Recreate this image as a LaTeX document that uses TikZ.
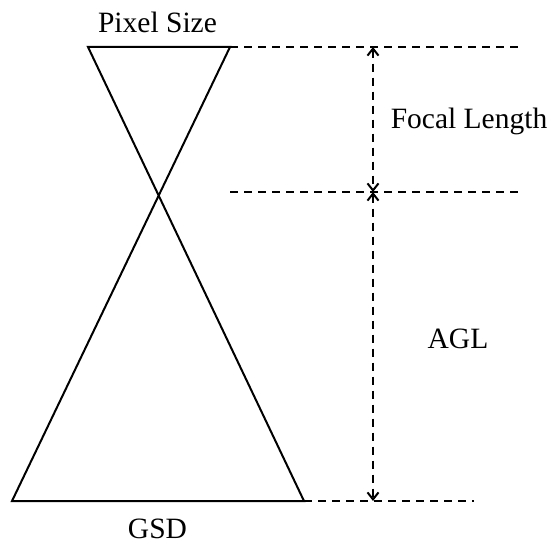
\documentclass[tikz,border=0pt]{standalone}
\usepackage{fontspec}
\setmainfont{Liberation Serif}
\usetikzlibrary{arrows.meta}

\begin{document}
\begin{tikzpicture}[
    x=1pt, y=-1pt,
    cone/.style={draw, line width=2pt, line join=miter},
    guide/.style={draw, line width=2pt, dash pattern=on 8pt off 6pt},
    dimarr/.style={guide, {Straight Barb[length=7pt, width=11pt]}-{Straight Barb[length=7pt, width=11pt]}},
    lbl/.style={font=\fontsize{29.5}{34}\selectfont, anchor=base, inner sep=0pt}
]
\useasboundingbox (0,0) rectangle (551,543);

% ---- Cone corners ----
\coordinate (sensorL) at (88,47);
\coordinate (sensorR) at (230,47);
\coordinate (groundL) at (12,501);
\coordinate (groundR) at (304,501);

% ---- Dimension line ends ----
\coordinate (topE)   at (518,47);
\coordinate (lensS)  at (230,192);
\coordinate (lensE)  at (518,192);
\coordinate (gndE)   at (474,501);
\coordinate (dimTop) at (373,47);
\coordinate (dimMid) at (373,192);
\coordinate (dimBot) at (373,501);

% ---- Cones ----
\draw[cone] (sensorL) -- (sensorR) -- (groundL) -- (groundR) -- cycle;

% ---- Guide lines ----
\draw[guide] (sensorR) -- (topE);
\draw[guide] (lensS) -- (lensE);
\draw[guide] (groundR) -- (gndE);

% ---- Dimensions ----
\draw[dimarr] (dimTop) -- (dimMid);
\draw[dimarr] (dimMid) -- (dimBot);

% ---- Labels ----
\node[lbl] (pixel) at (157.5,33)  {Pixel Size};
\node[lbl] (gsd)   at (157.5,538) {GSD};
\node[lbl] (focal) at (469,128)   {Focal Length};
\node[lbl] (agl)   at (458,348)   {AGL};

\end{tikzpicture}
\end{document}
